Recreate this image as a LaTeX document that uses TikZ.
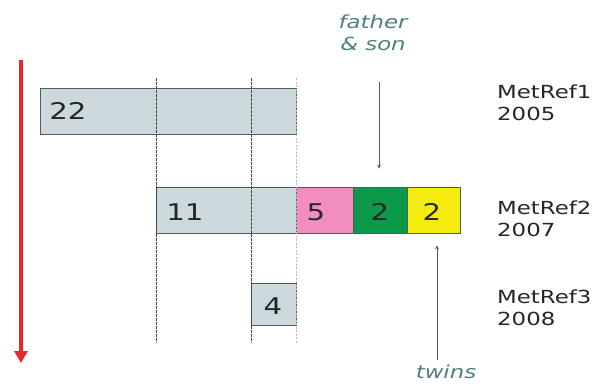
\documentclass[tikz,border=0pt]{standalone}
\usepackage{fontspec}
\setmainfont{DejaVu Sans}[FakeStretch=1.27]
\usetikzlibrary{arrows.meta}
\definecolor{barfill}{HTML}{CCDADD}
\definecolor{barline}{HTML}{555A5C}
\definecolor{pinkfill}{HTML}{F28DBF}
\definecolor{greenfill}{HTML}{0B9A4A}
\definecolor{yellowfill}{HTML}{F4EC0C}
\definecolor{notecol}{HTML}{4D7F7C}
\definecolor{timered}{HTML}{E82828}
\tikzset{
  bar/.style={draw=barline, line width=0.7pt, inner sep=0pt, anchor=center},
  num/.style={inner sep=0pt, font=\fontsize{23}{25}\selectfont, text=black!85},
  ref/.style={anchor=north west, inner sep=0pt, align=left,
              font=\fontsize{18}{22}\selectfont, text=black!85},
  note/.style={inner sep=0pt, align=center, text=notecol,
               font=\fontsize{18}{22}\selectfont\itshape},
  guide/.style={black!75, line width=1pt, dash pattern=on 2.5pt off 1.5pt},
  lightguide/.style={gray!55, line width=0.8pt, dash pattern=on 2pt off 1.5pt},
  pointer/.style={black!65, line width=0.8pt, -{Stealth[length=4pt,width=4pt]}},
}
\begin{document}
\begin{tikzpicture}[x=1pt, y=-1pt]
\useasboundingbox (0,0) rectangle (593,383);

% time axis
\coordinate (tTop) at (21,60);
\coordinate (tEnd) at (21,363);
\draw[timered, line width=3.5pt, -{Triangle[length=12pt,width=13pt]}] (tTop) -- (tEnd);

% MetRef1
\node[bar, fill=barfill, minimum width=256pt, minimum height=46pt] (b22) at (168,111) {};
\node[num] (n22) at (68,111) {22};

% MetRef2
\node[bar, fill=barfill, minimum width=140pt, minimum height=46pt] (b11) at (226,210) {};
\node[bar, fill=pinkfill, minimum width=57pt, minimum height=46pt] (b5) at (324.5,210) {};
\node[bar, fill=greenfill, minimum width=54pt, minimum height=46pt] (bg) at (380,210) {};
\node[bar, fill=yellowfill, minimum width=53pt, minimum height=46pt] (by) at (433.5,210) {};
\node[num] (n11) at (185,212) {11};
\node[num] (n5) at (316,212) {5};
\node[num] (ng) at (380,212) {2};
\node[num] (ny) at (432,212) {2};

% MetRef3
\node[bar, fill=barfill, minimum width=44.5pt, minimum height=42pt] (b4) at (273.75,304) {};
\node[num] (n4) at (273,306) {4};

% vertical guides
\coordinate (g1t) at (156,78);   \coordinate (g1b) at (156,343);
\coordinate (g2t) at (251.5,78); \coordinate (g2b) at (251.5,343);
\coordinate (g3t) at (296,78);   \coordinate (g3b) at (296,343);
\draw[guide] (g1t) -- (g1b);
\draw[guide] (g2t) -- (g2b);
\draw[lightguide] (g3t) -- (g3b);

% row labels
\node[ref] (r1) at (497,85) {MetRef1\\2005};
\node[ref] (r2) at (497,201) {MetRef2\\2007};
\node[ref] (r3) at (497,290) {MetRef3\\2008};

% annotations
\node[note] (fs) at (373,33) {father\\\&\ son};
\coordinate (fsStart) at (379,82);
\draw[pointer] (fsStart) -- ([xshift=-1pt,yshift=18pt]bg.north);

\node[note, anchor=base] (tw) at (446,378) {twins};
\coordinate (twStart) at (437,360);
\draw[pointer] (twStart) -- ([xshift=3.5pt,yshift=-12pt]by.south);
\end{tikzpicture}
\end{document}
